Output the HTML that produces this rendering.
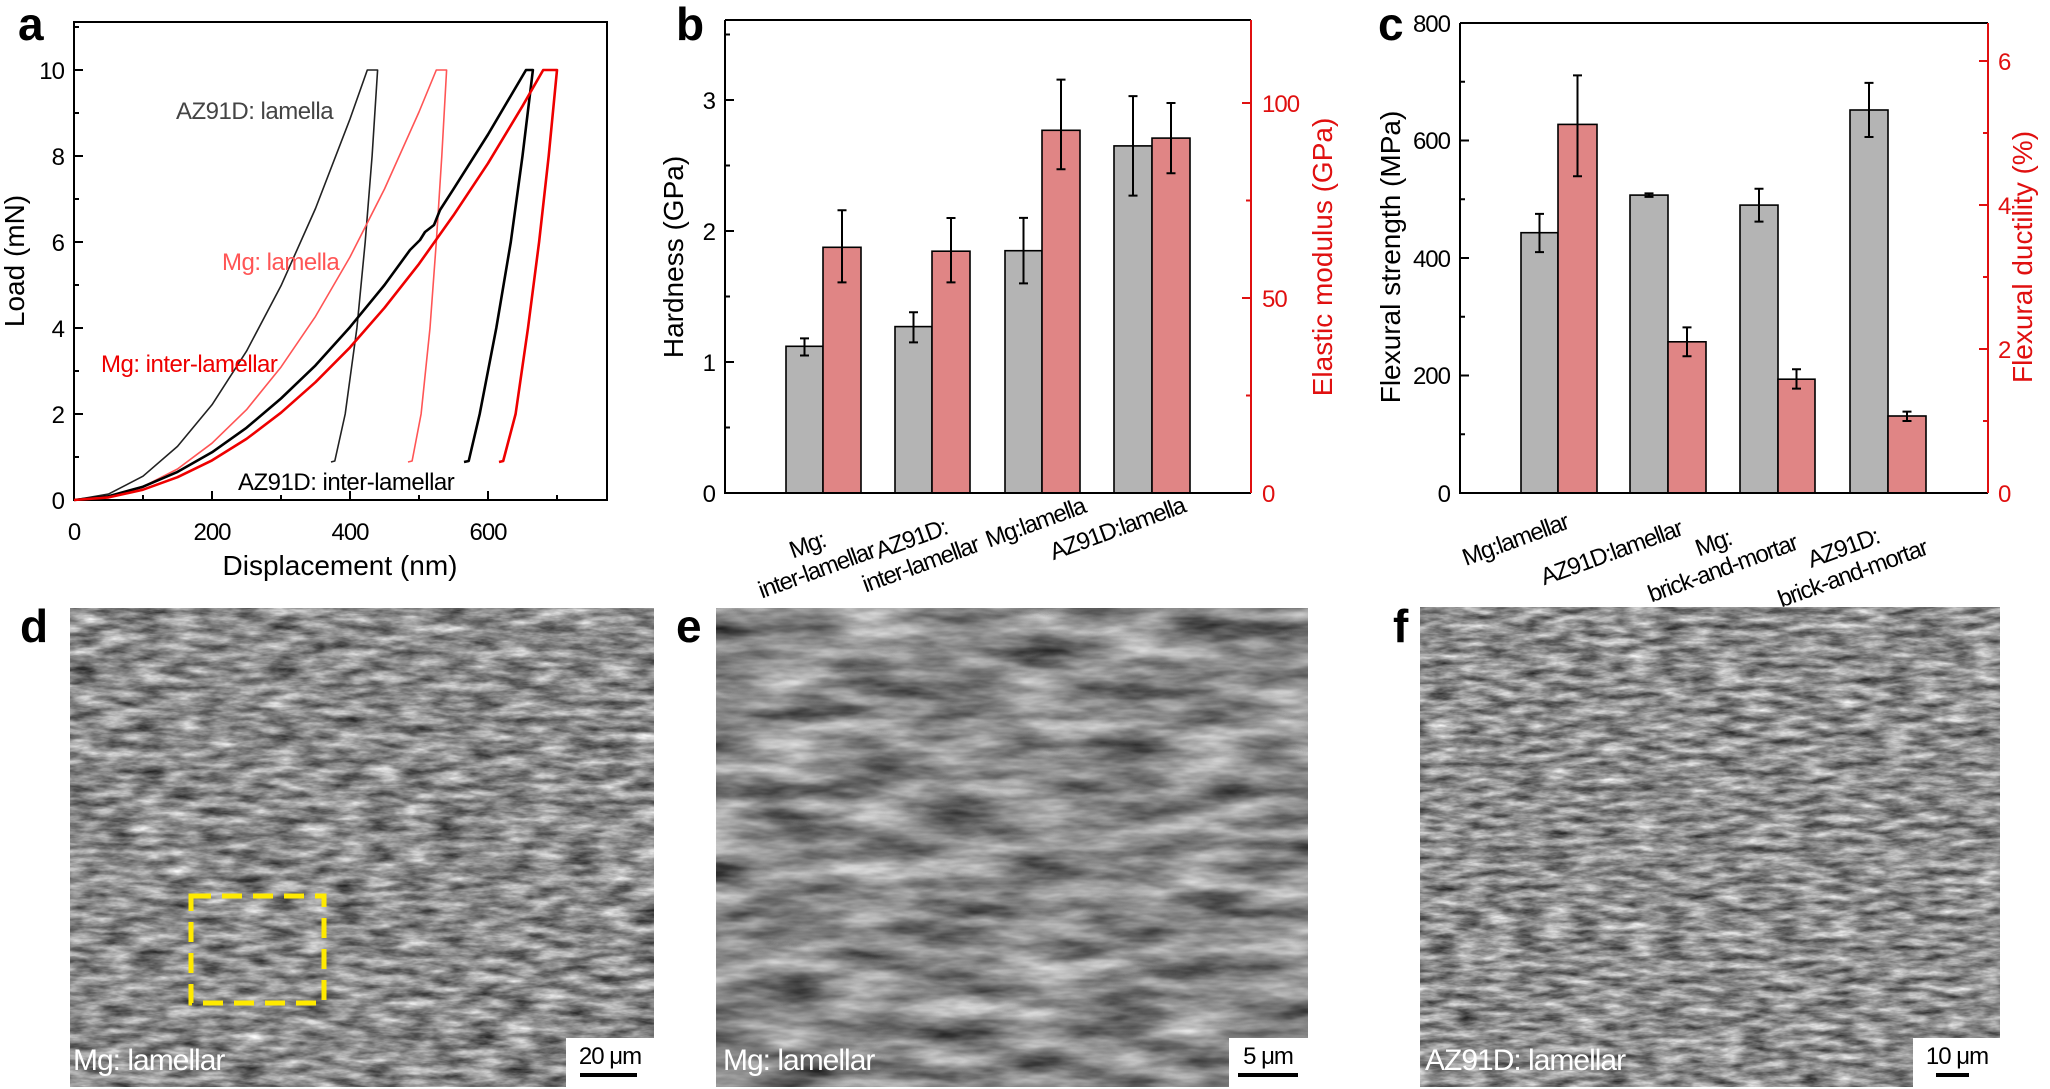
<!DOCTYPE html>
<html><head><meta charset="utf-8"><style>
html,body{margin:0;padding:0;background:#fff}
svg{display:block}
text{font-family:"Liberation Sans",sans-serif}
.t{font-size:24px;letter-spacing:-1px}
.xl{font-size:24px;letter-spacing:-1.2px}
.ti{font-size:28px}
.pl{font-size:46px;font-weight:bold}
.r{fill:#e01010}
</style></head><body>
<svg width="2050" height="1089" viewBox="0 0 2050 1089" xmlns="http://www.w3.org/2000/svg">
<defs>
<filter id="n1" x="0" y="0" width="100%" height="100%" color-interpolation-filters="sRGB"><feTurbulence type="fractalNoise" baseFrequency="0.03 0.12" numOctaves="4" seed="3"/><feColorMatrix type="matrix" values="0.95 0 0 0 0.07  0.95 0 0 0 0.07  0.95 0 0 0 0.07  0 0 0 0 1"/></filter>
<filter id="n2" x="0" y="0" width="100%" height="100%" color-interpolation-filters="sRGB"><feTurbulence type="fractalNoise" baseFrequency="0.012 0.05" numOctaves="4" seed="7"/><feColorMatrix type="matrix" values="0.95 0 0 0 0.06  0.95 0 0 0 0.06  0.95 0 0 0 0.06  0 0 0 0 1"/></filter>
<filter id="n3" x="0" y="0" width="100%" height="100%" color-interpolation-filters="sRGB"><feTurbulence type="fractalNoise" baseFrequency="0.035 0.13" numOctaves="4" seed="11"/><feColorMatrix type="matrix" values="0.95 0 0 0 0.08  0.95 0 0 0 0.08  0.95 0 0 0 0.08  0 0 0 0 1"/></filter>
</defs>

<text class="pl" x="18" y="40">a</text>
<text class="pl" x="676" y="40">b</text>
<text class="pl" x="1378" y="40">c</text>
<text class="pl" x="20" y="642">d</text>
<text class="pl" x="676" y="642">e</text>
<text class="pl" x="1393" y="642">f</text>

<!-- ===== Panel a ===== -->
<rect x="74" y="22" width="533" height="478" fill="none" stroke="#000" stroke-width="2"/>
<g stroke="#000" stroke-width="2">
<line x1="74" y1="500" x2="83" y2="500"/><line x1="74" y1="414" x2="83" y2="414"/><line x1="74" y1="328" x2="83" y2="328"/><line x1="74" y1="242" x2="83" y2="242"/><line x1="74" y1="156" x2="83" y2="156"/><line x1="74" y1="70" x2="83" y2="70"/>
<line x1="74" y1="457" x2="79" y2="457"/><line x1="74" y1="371" x2="79" y2="371"/><line x1="74" y1="285" x2="79" y2="285"/><line x1="74" y1="199" x2="79" y2="199"/><line x1="74" y1="113" x2="79" y2="113"/><line x1="74" y1="27" x2="79" y2="27"/>
<line x1="212" y1="500" x2="212" y2="491"/><line x1="350" y1="500" x2="350" y2="491"/><line x1="488" y1="500" x2="488" y2="491"/>
<line x1="143" y1="500" x2="143" y2="495"/><line x1="281" y1="500" x2="281" y2="495"/><line x1="419" y1="500" x2="419" y2="495"/><line x1="557" y1="500" x2="557" y2="495"/>
</g>
<g class="t" text-anchor="end">
<text x="64" y="509">0</text><text x="64" y="423">2</text><text x="64" y="337">4</text><text x="64" y="251">6</text><text x="64" y="165">8</text><text x="64" y="79">10</text>
</g>
<g class="t" text-anchor="middle">
<text x="74" y="540">0</text><text x="212" y="540">200</text><text x="350" y="540">400</text><text x="488" y="540">600</text>
</g>
<text class="ti" x="340" y="575" text-anchor="middle">Displacement (nm)</text>
<text class="ti" transform="translate(24,261) rotate(-90)" text-anchor="middle">Load (mN)</text>

<g fill="none" stroke-linejoin="round">
<polyline stroke="#222" stroke-width="1.6" points="74,500 108.5,494.1 143,476.2 177.5,446.4 212,404.8 246.5,351.2 281,285.8 315.5,208.5 350,119 367.3,70 377.6,70 372.1,156 365.2,242 356.9,328 345.2,414 334.8,461 331,462"/>
<polyline stroke="#f55" stroke-width="1.6" points="74,500 108.5,497 143,486.7 177.5,469 212,443.2 246.5,409.7 281,367.1 315.5,316.4 350,257 384.5,189 419,112 436.3,70 446.6,70 441.8,156 436.3,242 430,328 421.1,414 412.1,461 408,462"/>
<polyline stroke="#000" stroke-width="2.6" points="74,500 108.5,496.3 143,486.7 177.5,471.9 212,452.3 246.5,427.8 281,398.5 315.5,365.4 350,327.1 384.5,285 410,250 420,240 425,232 434,225 440,210 453.5,189.1 488,134.5 526,70 532.9,70 522.5,156 510.8,242 496.3,328 479.7,414 468.7,461 464,462"/>
<polyline stroke="#e00" stroke-width="2.6" points="74,500 108.5,497.4 143,489.7 177.5,477.2 212,460.4 246.5,438.9 281,412.7 315.5,382.2 350,347.4 384.5,307.8 419,263.9 453.5,215.3 488,163.3 522.5,106.1 543.2,70 557,70 548.7,156 539.1,242 528,328 515.6,414 503.2,461 499,462"/>
</g>
<g font-size="24" letter-spacing="-0.5">
<text x="176" y="119" fill="#444">AZ91D: lamella</text>
<text x="222" y="270" fill="#f55">Mg: lamella</text>
<text x="101" y="372" fill="#e00">Mg: inter-lamellar</text>
<text x="238" y="490" fill="#000">AZ91D: inter-lamellar</text>
</g>

<!-- ===== Panel b ===== -->
<g stroke="#000" stroke-width="1.6">
<rect x="786" y="346.3" width="37" height="146.7" fill="#b4b4b4"/>
<rect x="823" y="247.3" width="38" height="245.7" fill="#e08585"/>
<rect x="895" y="326.6" width="37" height="166.4" fill="#b4b4b4"/>
<rect x="932" y="251.2" width="38" height="241.8" fill="#e08585"/>
<rect x="1005" y="250.7" width="37" height="242.3" fill="#b4b4b4"/>
<rect x="1042" y="130.3" width="38" height="362.7" fill="#e08585"/>
<rect x="1114" y="145.9" width="38" height="347.1" fill="#b4b4b4"/>
<rect x="1152" y="138.1" width="38" height="354.9" fill="#e08585"/>
</g>
<g stroke="#000" stroke-width="2" fill="none">
<path d="M804.5,355.5V338.4M800,355.5h9M800,338.4h9"/>
<path d="M842,282.4V210.3M837.5,282.4h9M837.5,210.3h9"/>
<path d="M913.5,342.4V312.2M909,342.4h9M909,312.2h9"/>
<path d="M951,282.4V218M946.5,282.4h9M946.5,218h9"/>
<path d="M1023.5,283.4V217.9M1019,283.4h9M1019,217.9h9"/>
<path d="M1061,169.3V79.6M1056.5,169.3h9M1056.5,79.6h9"/>
<path d="M1133,195.6V96.1M1128.5,195.6h9M1128.5,96.1h9"/>
<path d="M1171,173.2V103M1166.5,173.2h9M1166.5,103h9"/>
</g>
<path d="M725,20V493H1251M725,20H1251" fill="none" stroke="#000" stroke-width="2"/>
<line x1="1251" y1="20" x2="1251" y2="493" stroke="#e01010" stroke-width="2"/>
<g stroke="#000" stroke-width="2">
<line x1="725" y1="362" x2="734" y2="362"/><line x1="725" y1="231" x2="734" y2="231"/><line x1="725" y1="100" x2="734" y2="100"/>
<line x1="725" y1="427.5" x2="730" y2="427.5"/><line x1="725" y1="296.5" x2="730" y2="296.5"/><line x1="725" y1="165.5" x2="730" y2="165.5"/><line x1="725" y1="34.5" x2="730" y2="34.5"/>
</g>
<g stroke="#e01010" stroke-width="2">
<line x1="1242" y1="298" x2="1251" y2="298"/><line x1="1242" y1="103" x2="1251" y2="103"/>
<line x1="1246" y1="395.5" x2="1251" y2="395.5"/><line x1="1246" y1="200.5" x2="1251" y2="200.5"/>
</g>
<g class="t" text-anchor="end">
<text x="715" y="502">0</text><text x="715" y="371">1</text><text x="715" y="240">2</text><text x="715" y="109">3</text>
</g>
<g class="t r">
<text x="1262" y="502">0</text><text x="1262" y="307">50</text><text x="1262" y="112">100</text>
</g>
<text class="ti" transform="translate(683,257) rotate(-90)" text-anchor="middle">Hardness (GPa)</text>
<text class="ti r" transform="translate(1332,257) rotate(-90)" text-anchor="middle">Elastic modulus (GPa)</text>
<g class="xl" text-anchor="middle">
<g transform="translate(812,558) rotate(-20)"><text y="-6">Mg:</text><text y="21">inter-lamellar</text></g>
<g transform="translate(916,552) rotate(-20)"><text y="-6">AZ91D:</text><text y="21">inter-lamellar</text></g>
<text transform="translate(1038,530) rotate(-20)">Mg:lamella</text>
<text transform="translate(1120,536) rotate(-20)">AZ91D:lamella</text>
</g>

<!-- ===== Panel c ===== -->
<g stroke="#000" stroke-width="1.6">
<rect x="1521" y="232.7" width="37" height="260.3" fill="#b4b4b4"/>
<rect x="1558" y="124.4" width="39" height="368.6" fill="#e08585"/>
<rect x="1630" y="195.1" width="38" height="297.9" fill="#b4b4b4"/>
<rect x="1668" y="341.8" width="38" height="151.2" fill="#e08585"/>
<rect x="1740" y="205.1" width="38" height="287.9" fill="#b4b4b4"/>
<rect x="1778" y="379.2" width="37" height="113.8" fill="#e08585"/>
<rect x="1850" y="110" width="38" height="383" fill="#b4b4b4"/>
<rect x="1888" y="416" width="38" height="77" fill="#e08585"/>
</g>
<g stroke="#000" stroke-width="2" fill="none">
<path d="M1539.5,252.1V213.9M1535,252.1h9M1535,213.9h9"/>
<path d="M1577.5,176.2V75.4M1573,176.2h9M1573,75.4h9"/>
<path d="M1649,196.9V193.4M1644.5,196.9h9M1644.5,193.4h9"/>
<path d="M1687,356.2V327.4M1682.5,356.2h9M1682.5,327.4h9"/>
<path d="M1759,221.6V188.7M1754.5,221.6h9M1754.5,188.7h9"/>
<path d="M1796.5,388.6V369.2M1792,388.6h9M1792,369.2h9"/>
<path d="M1869,137V82.9M1864.5,137h9M1864.5,82.9h9"/>
<path d="M1907,421V411.6M1902.5,421h9M1902.5,411.6h9"/>
</g>
<path d="M1460,23V493H1988M1460,23H1988" fill="none" stroke="#000" stroke-width="2"/>
<line x1="1988" y1="23" x2="1988" y2="493" stroke="#e01010" stroke-width="2"/>
<g stroke="#000" stroke-width="2">
<line x1="1460" y1="375.5" x2="1469" y2="375.5"/><line x1="1460" y1="258" x2="1469" y2="258"/><line x1="1460" y1="140.5" x2="1469" y2="140.5"/>
<line x1="1460" y1="434.25" x2="1465" y2="434.25"/><line x1="1460" y1="316.75" x2="1465" y2="316.75"/><line x1="1460" y1="199.25" x2="1465" y2="199.25"/><line x1="1460" y1="81.75" x2="1465" y2="81.75"/>
</g>
<g stroke="#e01010" stroke-width="2">
<line x1="1979" y1="349" x2="1988" y2="349"/><line x1="1979" y1="205" x2="1988" y2="205"/><line x1="1979" y1="61" x2="1988" y2="61"/>
<line x1="1983" y1="421" x2="1988" y2="421"/><line x1="1983" y1="277" x2="1988" y2="277"/><line x1="1983" y1="133" x2="1988" y2="133"/>
</g>
<g class="t" text-anchor="end">
<text x="1450" y="502">0</text><text x="1450" y="384">200</text><text x="1450" y="267">400</text><text x="1450" y="149">600</text><text x="1450" y="32">800</text>
</g>
<g class="t r">
<text x="1998" y="502">0</text><text x="1998" y="358">2</text><text x="1998" y="214">4</text><text x="1998" y="70">6</text>
</g>
<text class="ti" transform="translate(1400,257) rotate(-90)" text-anchor="middle">Flexural strength (MPa)</text>
<text class="ti r" transform="translate(2032,257) rotate(-90)" text-anchor="middle">Flexural ductility (%)</text>
<g class="xl" text-anchor="middle">
<text transform="translate(1518,547) rotate(-20)">Mg:lamellar</text>
<text transform="translate(1614,560) rotate(-20)">AZ91D:lamellar</text>
<g transform="translate(1718,556) rotate(-20)"><text y="-6">Mg:</text><text y="21">brick-and-mortar</text></g>
<g transform="translate(1848,561) rotate(-20)"><text y="-6">AZ91D:</text><text y="21">brick-and-mortar</text></g>
</g>

<!-- ===== Photos ===== -->
<rect x="70" y="608" width="584" height="479" fill="#8a8a8a"/>
<rect x="70" y="608" width="584" height="479" filter="url(#n1)"/>
<rect x="716" y="608" width="592" height="479" fill="#868686"/>
<rect x="716" y="608" width="592" height="479" filter="url(#n2)"/>
<rect x="1420" y="607" width="580" height="480" fill="#8c8c8c"/>
<rect x="1420" y="607" width="580" height="480" filter="url(#n3)"/>

<rect x="191" y="896" width="133" height="107" fill="none" stroke="#ffea00" stroke-width="5" stroke-dasharray="20,11"/>

<g font-size="30" fill="#fff" letter-spacing="-1">
<text x="73" y="1070">Mg: lamellar</text>
<text x="723" y="1070">Mg: lamellar</text>
<text x="1425" y="1070">AZ91D: lamellar</text>
</g>
<rect x="566" y="1038" width="88" height="49" fill="#fff"/>
<rect x="1229" y="1038" width="79" height="49" fill="#fff"/>
<rect x="1913" y="1038" width="87" height="49" fill="#fff"/>
<g class="t" text-anchor="middle">
<text x="610" y="1064">20 μm</text>
<text x="1268" y="1064">5 μm</text>
<text x="1957" y="1064">10 μm</text>
</g>
<g fill="#000">
<rect x="580" y="1073" width="57" height="4"/>
<rect x="1238" y="1073" width="60" height="4"/>
<rect x="1936" y="1073" width="33" height="4"/>
</g>
</svg>
</body></html>
